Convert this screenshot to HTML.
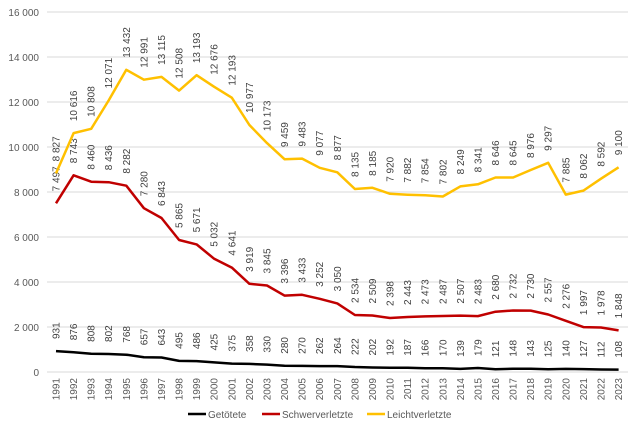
<!DOCTYPE html>
<html><head><meta charset="utf-8"><style>
body{margin:0;background:#fff;}
svg{display:block;font-family:"Liberation Sans",sans-serif;}
</style></head><body>
<svg id="c" width="640" height="433" xmlns="http://www.w3.org/2000/svg"></svg>
<script>
const G=[931,876,808,802,768,657,643,495,486,425,375,358,330,280,270,262,264,222,202,192,187,166,170,139,179,121,148,143,125,140,127,112,108];
const S=[7497,8743,8460,8436,8282,7280,6843,5865,5671,5032,4641,3919,3845,3396,3433,3252,3050,2534,2509,2398,2443,2473,2487,2507,2483,2680,2732,2730,2557,2276,1997,1978,1848];
const L=[8827,10616,10808,12071,13432,12991,13115,12508,13193,12676,12193,10977,10173,9459,9483,9077,8877,8135,8185,7920,7882,7854,7802,8249,8341,8646,8645,8976,9297,7885,8062,8592,9100];
const X=i=>56+i*17.58, Y=v=>372-v*0.0225;
const f=v=>v>=1000?Math.floor(v/1000)+" "+String(v%1000).padStart(3,"0"):String(v);
let h="";
for(let k=0;k<=8;k++){const y=Y(k*2000);h+=`<line x1="47" x2="628" y1="${y}" y2="${y}" stroke="#d9d9d9" stroke-width="1"/>`;
h+=`<text x="39" y="${y+4}" text-anchor="end" font-size="10" fill="#595959">${f(k*2000)}</text>`;}
for(let i=0;i<33;i++){const x=X(i);h+=`<text transform="translate(${x+3.5},378) rotate(-90)" text-anchor="end" font-size="10" fill="#595959">${1991+i}</text>`;}
function ser(d,c){let p=d.map((v,i)=>X(i).toFixed(1)+","+Y(v).toFixed(1)).join(" ");
h+=`<polyline points="${p}" fill="none" stroke="${c}" stroke-width="2.5" stroke-linejoin="round"/>`;
d.forEach((v,i)=>{h+=`<text transform="translate(${X(i)+3.5},${Y(v)-12}) rotate(-90)" font-size="10" fill="#404040">${f(v)}</text>`;});}
ser(G,"#000");ser(S,"#c00000");ser(L,"#ffc000");
const lg=[[188,"#000","Getötete"],[262,"#c00000","Schwerverletzte"],[367,"#ffc000","Leichtverletzte"]];
lg.forEach(([x,c,t])=>{h+=`<line x1="${x}" x2="${x+18}" y1="414" y2="414" stroke="${c}" stroke-width="2.5"/><text x="${x+20}" y="418" font-size="10" fill="#595959">${t}</text>`;});
document.getElementById("c").innerHTML=h;
</script>
</body></html>
